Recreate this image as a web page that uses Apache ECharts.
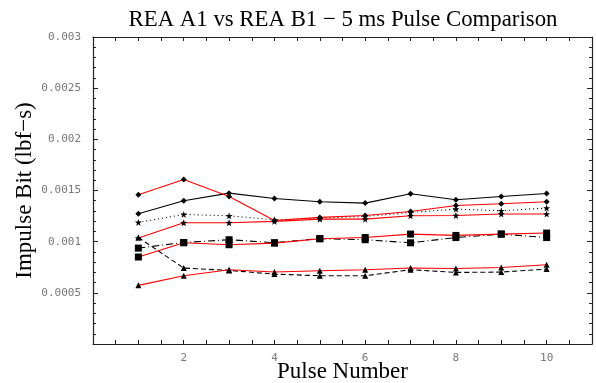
<!DOCTYPE html>
<html>
<head>
<meta charset="utf-8">
<script src="https://cdn.jsdelivr.net/npm/echarts@6/dist/echarts.min.js"></script>
<style>
  html, body { margin: 0; padding: 0; background: #fff; }
  #chart { width: 596px; height: 383px; }
</style>
</head>
<body>
<div id="chart"></div>
<script>
// Pulse numbers along the x axis
const pulses = [1, 2, 3, 4, 5, 6, 7, 8, 9, 10];

// REA A1 (black lines) impulse bit, lbf-s
const a1Diamond  = [0.001272, 0.001400, 0.001474, 0.001422, 0.001390, 0.001377, 0.001468, 0.001409, 0.001442, 0.001471];
const a1Star     = [0.001188, 0.001266, 0.001253, 0.001214, 0.001230, 0.001246, 0.001285, 0.001318, 0.001302, 0.001328];
const a1Square   = [0.000937, 0.000992, 0.001019, 0.000990, 0.001030, 0.001019, 0.000989, 0.001040, 0.001074, 0.001040];
const a1Triangle = [0.001041, 0.000742, 0.000719, 0.000683, 0.000667, 0.000667, 0.000726, 0.000699, 0.000703, 0.000732];

// REA B1 (red lines) impulse bit, lbf-s
const b1Diamond  = [0.001458, 0.001608, 0.001442, 0.001207, 0.001237, 0.001256, 0.001295, 0.001354, 0.001370, 0.001390];
const b1Star     = [0.001035, 0.001185, 0.001185, 0.001198, 0.001220, 0.001220, 0.001253, 0.001256, 0.001270, 0.001270];
const b1Square   = [0.000850, 0.000989, 0.000970, 0.000986, 0.001028, 0.001041, 0.001074, 0.001061, 0.001074, 0.001084];
const b1Triangle = [0.000573, 0.000667, 0.000726, 0.000703, 0.000716, 0.000726, 0.000742, 0.000738, 0.000748, 0.000774];

// Axis settings
const xMin = 0, xMax = 11, xStep = 0.5, xLabelStep = 2;
const yMin = 0, yMax = 0.003, yStep = 0.0005;

const starPath = 'path://M0,-10L2.35,-3.24L9.51,-3.09L3.8,1.24L5.88,8.09L0,4L-5.88,8.09L-3.8,1.24L-9.51,-3.09L-2.35,-3.24Z';

function pairs(ys) { return pulses.map((x, i) => [x, ys[i]]); }

function makeSeries(name, ys, lineColor, lineType, symbol, size) {
  return {
    name: name,
    type: 'line',
    data: pairs(ys),
    symbol: symbol,
    symbolSize: size,
    showAllSymbol: true,
    animation: false,
    lineStyle: { color: lineColor, width: 1.1, type: lineType },
    itemStyle: { color: '#000', borderWidth: 0 },
    z: lineColor === '#000' ? 3 : 4
  };
}

const axisLine = { show: true, onZero: false, lineStyle: { color: '#222', width: 1.2 } };
const labelFont = { fontFamily: 'DejaVu Sans Mono', fontSize: 11, color: '#777' };
const nameFont = { fontFamily: 'Liberation Serif', fontSize: 23, color: '#000' };

function xLabel(v) {
  const r = Math.round(v);
  return (Math.abs(v - r) < 1e-9 && r % xLabelStep === 0 && r !== 0) ? String(r) : '';
}
function yLabel(v) {
  const k = v / yStep;
  return (Math.abs(k - Math.round(k)) < 1e-6 && Math.round(k) !== 0) ? String(+v.toFixed(4)) : '';
}

const chart = echarts.init(document.getElementById('chart'), null, { renderer: 'canvas' });
chart.setOption({
  backgroundColor: '#fff',
  animation: false,
  title: {
    text: 'REA A1 vs REA B1 \u2212 5 ms Pulse Comparison',
    left: 338,
    top: 4,
    textAlign: 'center',
    textStyle: { fontFamily: 'Liberation Serif', fontSize: 22.8, fontWeight: 'normal', color: '#000' }
  },
  grid: { left: 93, top: 37, right: 4, bottom: 39, containLabel: false, outerBoundsMode: 'none' },
  xAxis: [
    {
      type: 'value', position: 'bottom', min: xMin, max: xMax, interval: xStep,
      name: 'Pulse Number', nameLocation: 'middle', nameGap: 16, nameMoveOverlap: false,
      nameTextStyle: nameFont,
      axisLine: axisLine,
      axisTick: { show: true, inside: true, length: 4, lineStyle: { color: '#222' } },
      axisLabel: Object.assign({ formatter: xLabel, margin: 9 }, labelFont),
      splitLine: { show: false }
    },
    {
      type: 'value', position: 'top', min: xMin, max: xMax, interval: xStep,
      axisLine: axisLine,
      axisTick: { show: true, inside: true, length: 4, lineStyle: { color: '#222' } },
      axisLabel: { show: false },
      splitLine: { show: false }
    }
  ],
  yAxis: [
    {
      type: 'value', position: 'left', min: yMin, max: yMax, interval: yStep,
      name: 'Impulse Bit (lbf\u2212s)', nameLocation: 'middle', nameGap: 57, nameMoveOverlap: false,
      nameTextStyle: nameFont,
      axisLine: axisLine,
      axisTick: { show: true, inside: true, length: 5, lineStyle: { color: '#222' } },
      minorTick: { show: true, splitNumber: 5, length: 3, lineStyle: { color: '#222' } },
      axisLabel: Object.assign({ formatter: yLabel, margin: 12 }, labelFont),
      splitLine: { show: false }
    },
    {
      type: 'value', position: 'right', min: yMin, max: yMax, interval: yStep,
      axisLine: axisLine,
      axisTick: { show: true, inside: true, length: 5, lineStyle: { color: '#222' } },
      minorTick: { show: true, splitNumber: 5, length: 3, lineStyle: { color: '#222' } },
      axisLabel: { show: false },
      splitLine: { show: false }
    }
  ],
  series: [
    makeSeries('A1 diamond', a1Diamond, '#000', 'solid', 'diamond', 6),
    makeSeries('A1 star', a1Star, '#000', [1, 3], starPath, 7),
    makeSeries('A1 square', a1Square, '#000', [7, 3, 1, 3], 'rect', 7),
    makeSeries('A1 triangle', a1Triangle, '#000', [5, 3], 'triangle', 6),
    makeSeries('B1 diamond', b1Diamond, '#ff0000', 'solid', 'diamond', 6),
    makeSeries('B1 star', b1Star, '#ff0000', 'solid', starPath, 7),
    makeSeries('B1 square', b1Square, '#ff0000', 'solid', 'rect', 7),
    makeSeries('B1 triangle', b1Triangle, '#ff0000', 'solid', 'triangle', 6)
  ]
});
</script>
</body>
</html>
